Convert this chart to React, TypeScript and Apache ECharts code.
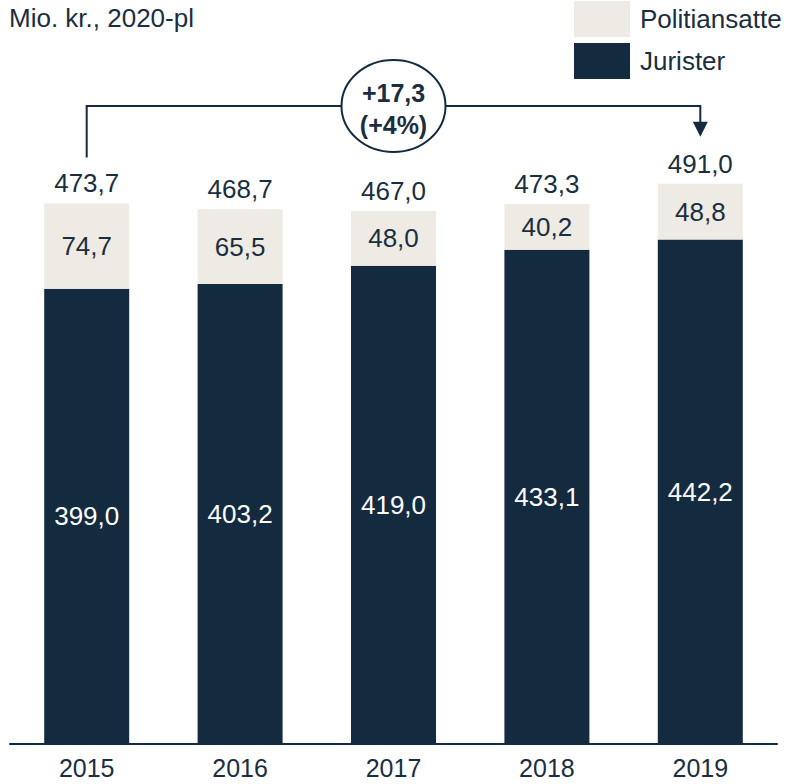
import React, { useEffect, useRef } from "react";
import * as echarts from "echarts";

const years = ["2015", "2016", "2017", "2018", "2019"];
const jurister = [399.0, 403.2, 419.0, 433.1, 442.2];
const politiansatte = [74.7, 65.5, 48.0, 40.2, 48.8];
const titleText = "Mio. kr., 2020-pl";

const DARK = "#142a3f";
const LIGHT = "#eeebe5";
const TEXT = "#1b2e40";
const FONT = "'Liberation Sans', Arial, Helvetica, sans-serif";

const fmt = (v: number) => v.toFixed(1).replace(".", ",");

export default function App() {
  const ref = useRef<HTMLDivElement>(null);
  useEffect(() => {
    if (!ref.current) return;
    const chart = echarts.init(ref.current, null, { renderer: "svg" });
    const totals = jurister.map((v, i) => Math.round((v + politiansatte[i]) * 10) / 10);
    chart.setOption({
      animation: false,
      textStyle: { fontFamily: FONT },
      title: {
        text: titleText,
        left: 9,
        top: 5,
        padding: 0,
        textStyle: { fontSize: 26, fontWeight: "normal", color: TEXT, fontFamily: FONT },
      },
      legend: {
        data: ["Politiansatte", "Jurister"],
        orient: "vertical",
        left: 574,
        top: 1,
        padding: 0,
        itemWidth: 56,
        itemHeight: 36,
        itemGap: 6,
        icon: "rect",
        selectedMode: false,
        textStyle: { fontSize: 26, color: TEXT, fontFamily: FONT, padding: [0, 0, 0, 5] },
      },
      grid: { left: 10, right: 10, top: 59.3, bottom: 40 },
      xAxis: {
        type: "category",
        data: years,
        axisLine: { lineStyle: { color: DARK, width: 2 } },
        axisTick: { show: false },
        axisLabel: { fontSize: 25, lineHeight: 22, color: TEXT, margin: 13, fontFamily: FONT },
      },
      yAxis: { type: "value", min: 0, max: 600, show: false, splitLine: { show: false } },
      series: [
        {
          name: "Jurister",
          type: "bar",
          stack: "total",
          barWidth: 85,
          data: jurister,
          itemStyle: { color: DARK },
          label: {
            show: true,
            position: "inside",
            color: "#ffffff",
            fontSize: 26,
            fontFamily: FONT,
            formatter: (p: any) => fmt(p.value),
          },
        },
        {
          name: "Politiansatte",
          type: "bar",
          stack: "total",
          barWidth: 85,
          data: politiansatte,
          itemStyle: { color: LIGHT },
          label: {
            show: true,
            position: "inside",
            color: TEXT,
            fontSize: 26,
            fontFamily: FONT,
            formatter: (p: any) => fmt(p.value),
          },
        },
        {
          name: "Total",
          type: "scatter",
          data: totals,
          symbolSize: 0,
          itemStyle: { color: "transparent", opacity: 1 },
          silent: true,
          label: {
            show: true,
            position: "top",
            distance: 7,
            color: TEXT,
            opacity: 1,
            fontSize: 26,
            fontFamily: FONT,
            formatter: (p: any) => fmt(p.value),
          },
        },
      ],
    });

    const x0 = chart.convertToPixel({ xAxisIndex: 0 }, years[0]) as number;
    const x4 = chart.convertToPixel({ xAxisIndex: 0 }, years[years.length - 1]) as number;
    const y0 = chart.convertToPixel({ yAxisIndex: 0 }, totals[0]) as number;
    const y4 = chart.convertToPixel({ yAxisIndex: 0 }, totals[totals.length - 1]) as number;
    const diff = totals[totals.length - 1] - totals[0];
    const pct = Math.round((diff / totals[0]) * 100);
    const lineY = 106;
    const cx = (x0 + x4) / 2;
    const tipY = y4 - 47;
    chart.setOption({
      graphic: [
        {
          type: "polyline",
          shape: { points: [[x0, y0 - 46], [x0, lineY], [x4, lineY], [x4, tipY - 14]] },
          style: { stroke: DARK, lineWidth: 2, fill: null },
          z: 10,
        },
        {
          type: "polygon",
          shape: { points: [[x4 - 7.5, tipY - 15], [x4 + 7.5, tipY - 15], [x4, tipY]] },
          style: { fill: DARK },
          z: 10,
        },
        {
          type: "ellipse",
          shape: { cx, cy: lineY, rx: 52, ry: 46 },
          style: { fill: "#ffffff", stroke: DARK, lineWidth: 2 },
          z: 11,
        },
        {
          type: "text",
          x: cx,
          y: 93,
          style: {
            text: (diff >= 0 ? "+" : "") + fmt(diff),
            fontSize: 25,
            fontWeight: "bold",
            fontFamily: FONT,
            fill: TEXT,
            align: "center",
            verticalAlign: "middle",
          },
          z: 12,
        },
        {
          type: "text",
          x: cx,
          y: 125,
          style: {
            text: "(" + (pct >= 0 ? "+" : "") + pct + "%)",
            fontSize: 25,
            fontWeight: "bold",
            fontFamily: FONT,
            fill: TEXT,
            align: "center",
            verticalAlign: "middle",
          },
          z: 12,
        },
      ],
    });
    return () => chart.dispose();
  }, []);
  return (
    <div
      ref={ref}
      style={{ position: "fixed", left: 0, top: 0, width: 787, height: 784, background: "#ffffff" }}
    />
  );
}
